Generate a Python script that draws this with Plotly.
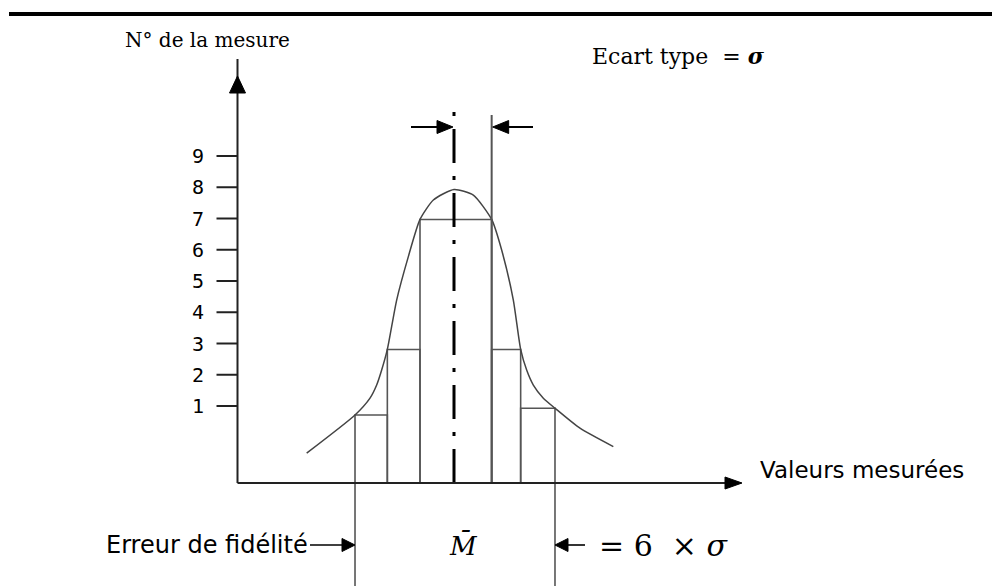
import plotly.graph_objects as go

W, H = 992, 586

# ---------------- data ----------------
tick_values = [1, 2, 3, 4, 5, 6, 7, 8, 9]
tick_labels = ["1", "2", "3", "4", "5", "6", "7", "8", "9"]

# histogram of the measurements (x in sigma units around the mean)
bar_edges = [-2.97, -2.0, -1.02, 1.13, 2.0, 3.03]
bar_counts = [0.71, 2.81, 6.97, 2.81, 0.93]

# hand drawn bell curve
curve_x = [-4.42, -2.97, -2.52, -2.32, -2.17, -2.00, -1.72, -1.37, -1.02, -0.62,
           0.0, 0.58, 1.13, 1.43, 1.78, 2.00, 2.18, 2.38, 2.68, 3.03, 3.78, 4.78]
curve_y = [-0.51, 0.71, 1.25, 1.67, 2.15, 2.81, 4.39, 5.78, 6.97, 7.59,
           7.93, 7.75, 6.97, 5.99, 4.39, 2.81, 2.15, 1.67, 1.25, 0.93, 0.29, -0.30]

mean_value = 0.0
sigma_mark = 1.13
spread_limits = [-2.97, 3.03]

# ---------------- scale / layout helpers ----------------
X_PX = 33.33      # pixels per x unit
Y_PX = 31.25      # pixels per y unit
MEAN_PX = 454.0   # pixel column of x = 0
ZERO_PX = 437.25  # pixel row of y = 0
x_range = [-MEAN_PX / X_PX, (W - MEAN_PX) / X_PX]
y_range = [(ZERO_PX - H) / Y_PX, ZERO_PX / Y_PX]


def to_x(px):
    return (px - MEAN_PX) / X_PX


def to_y(py):
    return (ZERO_PX - py) / Y_PX


def dx(px):
    return px / X_PX


def dy(px):
    return px / Y_PX


AXIS_X = to_x(237.5)
AXIS_Y = to_y(483)
Y_TOP = to_y(76)
X_END = to_x(742)
CENTER_TOP = to_y(112)
SIGMA_TOP = to_y(115)
SIGMA_ARROW_Y = to_y(127)
BOTTOM_Y = to_y(545)

INK = "#222"
GREY = "#555"

fig = go.Figure()

# histogram bars
centers = [(a + b) / 2 for a, b in zip(bar_edges[:-1], bar_edges[1:])]
widths = [b - a for a, b in zip(bar_edges[:-1], bar_edges[1:])]
fig.add_trace(go.Bar(
    x=centers, y=[c - AXIS_Y for c in bar_counts], base=AXIS_Y, width=widths,
    marker=dict(color="rgba(0,0,0,0)", line=dict(color=GREY, width=1.6)),
))

# bell curve
fig.add_trace(go.Scatter(
    x=curve_x, y=curve_y, mode="lines",
    line=dict(shape="spline", smoothing=0.6, color="#444", width=1.5),
))

# sigma line (right edge of central bar extended upward)
fig.add_trace(go.Scatter(
    x=[sigma_mark, sigma_mark], y=[AXIS_Y, SIGMA_TOP], mode="lines",
    line=dict(color=GREY, width=2),
))

# dash-dot mean line
fig.add_trace(go.Scatter(
    x=[mean_value, mean_value], y=[AXIS_Y, CENTER_TOP], mode="lines",
    line=dict(color="black", width=3, dash="34px,13px,4px,13px"),
))

# spread limits extended below the axis
for lim in spread_limits:
    fig.add_trace(go.Scatter(
        x=[lim, lim], y=[AXIS_Y, y_range[0]], mode="lines",
        line=dict(color=GREY, width=1.6),
    ))

# axes lines
fig.add_trace(go.Scatter(
    x=[AXIS_X, AXIS_X, None, AXIS_X, X_END - dx(17)],
    y=[AXIS_Y, Y_TOP + dy(17), None, AXIS_Y, AXIS_Y],
    mode="lines", line=dict(color=INK, width=2),
))

# y ticks
tx, ty = [], []
for v in tick_values:
    tx += [AXIS_X - dx(21), AXIS_X, None]
    ty += [v, v, None]
fig.add_trace(go.Scatter(x=tx, y=ty, mode="lines", line=dict(color=INK, width=2)))

annotations = []
for v, lab in zip(tick_values, tick_labels):
    annotations.append(dict(
        x=AXIS_X - dx(32), y=v, xref="x", yref="y", text=lab, showarrow=False,
        xanchor="right", yanchor="middle",
        font=dict(family="DejaVu Sans Mono", size=20, color="black"),
    ))

shapes = []


def tri(tip_x, tip_y, direction, length, half):
    """filled arrow head, sizes in pixels"""
    if direction == "up":
        pts = [(tip_x, tip_y), (tip_x - dx(half), tip_y - dy(length)),
               (tip_x + dx(half), tip_y - dy(length))]
    elif direction == "right":
        pts = [(tip_x, tip_y), (tip_x - dx(length), tip_y + dy(half)),
               (tip_x - dx(length), tip_y - dy(half))]
    else:  # left
        pts = [(tip_x, tip_y), (tip_x + dx(length), tip_y + dy(half)),
               (tip_x + dx(length), tip_y - dy(half))]
    path = "M {} {} L {} {} L {} {} Z".format(*[c for p in pts for c in p])
    shapes.append(dict(type="path", path=path, xref="x", yref="y",
                       fillcolor="black", line=dict(color="black", width=1)))


def seg(x0, y0, x1, y1, width=2, color="black"):
    shapes.append(dict(type="line", x0=x0, y0=y0, x1=x1, y1=y1, xref="x", yref="y",
                       line=dict(color=color, width=width)))


# axis arrow heads
tri(AXIS_X, Y_TOP, "up", 17, 8)
tri(X_END, AXIS_Y, "right", 17, 6)

# sigma arrows
seg(to_x(411), SIGMA_ARROW_Y, mean_value - dx(14), SIGMA_ARROW_Y)
tri(mean_value - dx(1), SIGMA_ARROW_Y, "right", 16, 6.5)
seg(to_x(533), SIGMA_ARROW_Y, sigma_mark + dx(14), SIGMA_ARROW_Y)
tri(sigma_mark + dx(1), SIGMA_ARROW_Y, "left", 16, 6.5)

# bottom arrows
seg(to_x(310), BOTTOM_Y, spread_limits[0] - dx(11), BOTTOM_Y, width=1.6)
tri(spread_limits[0], BOTTOM_Y, "right", 13, 6.5)
seg(spread_limits[1] + dx(10), BOTTOM_Y, spread_limits[1] + dx(30), BOTTOM_Y, width=1.6)
tri(spread_limits[1], BOTTOM_Y, "left", 13, 6.5)

# top rule of the page
shapes.append(dict(type="line", xref="paper", yref="paper", x0=9 / W, x1=1,
                   y0=1 - 14 / H, y1=1 - 14 / H, line=dict(color="black", width=4)))

# texts
serif = "DejaVu Serif"
annotations += [
    dict(x=to_x(123), y=to_y(40), text="N° de la mesure", xanchor="left",
         font=dict(family=serif, size=20, color="black")),
    dict(x=to_x(590), y=to_y(56), text="Ecart type  = <b><i>σ</i></b>", xanchor="left",
         font=dict(family=serif, size=22, color="black")),
    dict(x=to_x(758), y=to_y(470), text="Valeurs mesurées", xanchor="left",
         font=dict(family="DejaVu Sans", size=23, color="black")),
    dict(x=to_x(310), y=BOTTOM_Y, text="Erreur de fidélité", xanchor="right",
         font=dict(family="DejaVu Sans", size=24, color="black")),
    dict(x=to_x(463), y=BOTTOM_Y, text="<i>M\u0304</i>", xanchor="center",
         font=dict(family=serif, size=26, color="black")),
    dict(x=to_x(597), y=BOTTOM_Y, text="= 6  × <i>σ</i>", xanchor="left",
         font=dict(family=serif, size=30, color="black")),
]
for a in annotations:
    a.setdefault("xref", "x")
    a.setdefault("yref", "y")
    a.setdefault("showarrow", False)
    a.setdefault("yanchor", "middle")

fig.update_layout(
    width=W, height=H, margin=dict(l=0, r=0, t=0, b=0),
    paper_bgcolor="white", plot_bgcolor="white", showlegend=False,
    hovermode=False,
    xaxis=dict(visible=False, range=x_range, fixedrange=True),
    yaxis=dict(visible=False, range=y_range, fixedrange=True),
    shapes=shapes, annotations=annotations,
)

fig.write_html("out.html", config={"displayModeBar": False},
               post_script="document.body.style.margin='0';")
